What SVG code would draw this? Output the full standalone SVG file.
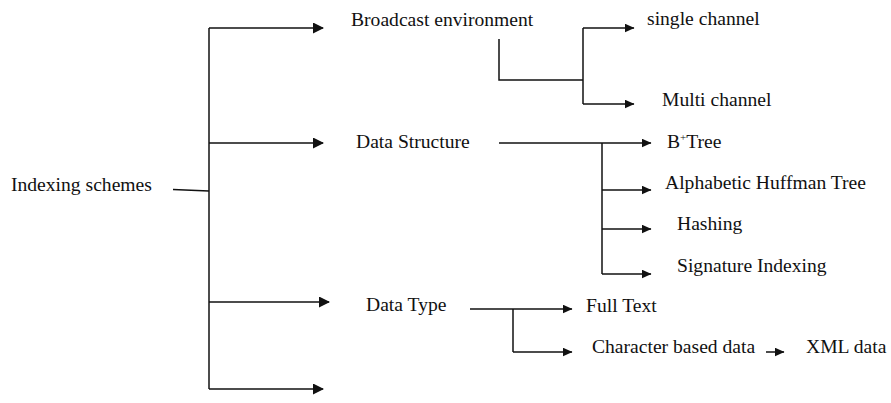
<svg xmlns="http://www.w3.org/2000/svg" width="891" height="403" viewBox="0 0 891 403">
  <style>
    .ln { stroke: #111; stroke-width: 1.5; fill: none; }
    .arr { marker-end: url(#head); }
    .arrs { marker-end: url(#headSmall); }
  </style>
  <defs>
    <marker id="head" viewBox="0 0 11 11" refX="10" refY="5.5" markerWidth="11" markerHeight="11" markerUnits="userSpaceOnUse" orient="auto">
      <path d="M0,0 L11,5.5 L0,11 Z" fill="#111"/>
    </marker>
    <marker id="headSmall" viewBox="0 0 10 9" refX="9.5" refY="4.5" markerWidth="10" markerHeight="9" markerUnits="userSpaceOnUse" orient="auto">
      <path d="M0,0 L10,4.5 L0,9 Z" fill="#111"/>
    </marker>
  </defs>

  <!-- connectors -->
  <g id="connectors">
    <!-- root trunk -->
    <path class="ln" d="M173,189.5 L209,191"/>
    <path class="ln" d="M209,28 L209,389"/>
    <path class="ln arr" d="M209,28 L323,28"/>
    <path class="ln arr" d="M209,143 L323,143"/>
    <path class="ln arr" d="M209,302 L329,302"/>
    <path class="ln arr" d="M209,389 L323,389"/>

    <!-- broadcast environment branch -->
    <path class="ln" d="M499,39 L499,80 L583,80"/>
    <path class="ln" d="M583,28 L583,104"/>
    <path class="ln arrs" d="M583,28 L634,28"/>
    <path class="ln arrs" d="M583,104 L634,104"/>

    <!-- data structure branch -->
    <path class="ln arrs" d="M499,143 L651,143"/>
    <path class="ln" d="M602,143 L602,274"/>
    <path class="ln arrs" d="M602,190 L651,190"/>
    <path class="ln arrs" d="M602,229 L651,229"/>
    <path class="ln arrs" d="M602,274 L651,274"/>

    <!-- data type branch -->
    <path class="ln arrs" d="M470,309 L572,309"/>
    <path class="ln" d="M513,309 L513,352"/>
    <path class="ln arrs" d="M513,352 L572,352"/>
    <path class="ln arrs" d="M766,352 L784,352"/>
  </g>

  <g font-family="Liberation Serif" font-size="19.6" fill="#111">
    <g id="root"><text x="11" y="191">Indexing schemes</text></g>

    <g id="broadcast"><text x="351" y="26">Broadcast environment</text></g>
    <g id="single-channel"><text x="647" y="25">single channel</text></g>
    <g id="multi-channel"><text x="662" y="106">Multi channel</text></g>

    <g id="data-structure"><text x="356" y="148">Data Structure</text></g>
    <g id="bplus-tree"><text x="667" y="148">B<tspan font-size="11" dy="-7">+</tspan><tspan dy="7">Tree</tspan></text></g>
    <g id="huffman-tree"><text x="665" y="189">Alphabetic Huffman Tree</text></g>
    <g id="hashing"><text x="677" y="230">Hashing</text></g>
    <g id="signature-indexing"><text x="677" y="272">Signature Indexing</text></g>

    <g id="data-type"><text x="366" y="311">Data Type</text></g>
    <g id="full-text"><text x="586" y="312">Full Text</text></g>
    <g id="character-data"><text x="592" y="353">Character based data</text></g>
    <g id="xml-data"><text x="806" y="353">XML data</text></g>
  </g>
</svg>
